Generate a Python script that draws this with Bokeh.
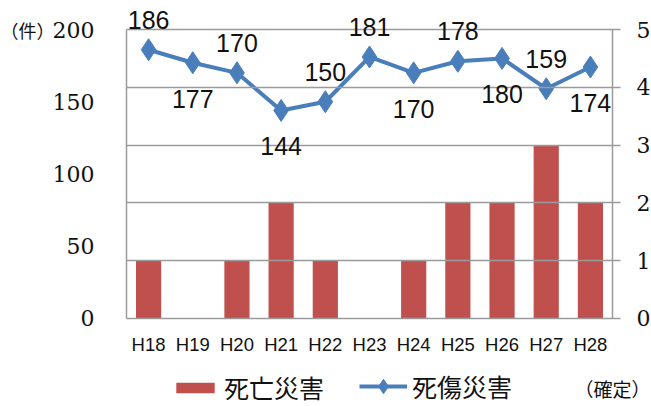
from bokeh.plotting import figure
from bokeh.models import (Range1d, LinearAxis, FixedTicker, Legend,
                          LegendItem, LabelSet, ColumnDataSource, Label)
from bokeh.core.properties import value
from bokeh.embed import file_html
from bokeh.resources import INLINE

years = ["H18", "H19", "H20", "H21", "H22", "H23", "H24", "H25", "H26", "H27", "H28"]
deaths = [1, 0, 1, 2, 1, 0, 1, 2, 2, 3, 2]            # 死亡災害 (right axis)
casualties = [186, 177, 170, 144, 150, 181, 170, 178, 180, 159, 174]  # 死傷災害 (left axis)
label_above = [True, False, True, False, True, True, False, True, False, True, False]
left_ticks = [0, 50, 100, 150, 200]
right_ticks = [0, 1, 2, 3, 4, 5]

idx = list(range(len(years)))   # category slots on the x scale

BAR = "#C0504D"
LINE = "#4A7EBB"
GRID = "#9A9A9A"
TXT = "#111111"

# the frame covers the whole canvas; the plotted area is slots -0.5..10.5, 0..200 / 0..5
X_LO, X_HI = -3.3519, 11.3827
Y_LO, Y_HI = -60.9, 220.07
RATIO = 40.0   # left units per right unit
LEFT_EDGE, RIGHT_EDGE = -0.5, len(years) - 0.5

p = figure(width=651, height=406, x_range=Range1d(X_LO, X_HI), y_range=Range1d(Y_LO, Y_HI),
           output_backend="svg", toolbar_location=None,
           min_border_left=0, min_border_right=0, min_border_top=0, min_border_bottom=0)
p.outline_line_color = None
p.background_fill_color = "white"
p.border_fill_color = "white"
p.extra_y_ranges = {"right": Range1d(Y_LO / RATIO, Y_HI / RATIO)}
p.xgrid.grid_line_color = None
p.ygrid.grid_line_color = None

# left axis
la = p.left[0]
la.fixed_location = LEFT_EDGE
la.ticker = FixedTicker(ticks=left_ticks)
la.bounds = (0, 200)
la.axis_line_color = GRID
la.axis_line_width = 1.5
la.major_tick_line_color = None
la.minor_tick_line_color = None
la.major_label_text_font = "DejaVu Serif"
la.major_label_text_font_size = "22px"
la.major_label_text_color = TXT
la.major_label_standoff = 26

# unit label "（件）" as a second left axis
ua = LinearAxis(fixed_location=LEFT_EDGE, ticker=FixedTicker(ticks=[200]),
                major_label_overrides={200: "（件）"})
ua.axis_line_color = None
ua.major_tick_line_color = None
ua.minor_tick_line_color = None
ua.major_label_text_font = "Noto Sans CJK JP"
ua.major_label_text_font_size = "18px"
ua.major_label_text_color = TXT
ua.major_label_standoff = 66
p.add_layout(ua, "left")

# right axis; its inward ticks form the horizontal grid
ra = LinearAxis(y_range_name="right", ticker=FixedTicker(ticks=right_ticks),
                fixed_location=RIGHT_EDGE, bounds=(0, 5))
ra.axis_line_color = GRID
ra.axis_line_width = 1.5
ra.major_tick_line_color = GRID
ra.major_tick_line_width = 1.5
ra.major_tick_in = 486
ra.major_tick_out = 8
ra.minor_tick_line_color = None
ra.major_label_text_font = "DejaVu Serif"
ra.major_label_text_font_size = "22px"
ra.major_label_text_color = TXT
ra.major_label_standoff = 16
p.add_layout(ra, "right")

# x axis at y = 0 (its line is the right axis' 0 tick)
xa = p.below[0]
xa.fixed_location = 0
xa.ticker = FixedTicker(ticks=idx)
xa.major_label_overrides = {i: y for i, y in zip(idx, years)}
xa.axis_line_color = None
xa.major_tick_line_color = None
xa.minor_tick_line_color = None
xa.major_label_text_font = "Liberation Sans"
xa.major_label_text_font_size = "18.5px"
xa.major_label_text_color = TXT
xa.major_label_standoff = 10

bars = p.vbar(x=idx, top=deaths, width=0.57, y_range_name="right",
              fill_color=BAR, line_color=None, level="underlay")
line = p.line(x=idx, y=casualties, line_color=LINE, line_width=4)
pts = p.scatter(x=idx, y=casualties, marker="diamond", size=22,
                fill_color=LINE, line_color=LINE)

above = ColumnDataSource(dict(
    x=[i for i, a in zip(idx, label_above) if a],
    y=[c for c, a in zip(casualties, label_above) if a],
    t=[str(c) for c, a in zip(casualties, label_above) if a]))
below = ColumnDataSource(dict(
    x=[i for i, a in zip(idx, label_above) if not a],
    y=[c for c, a in zip(casualties, label_above) if not a],
    t=[str(c) for c, a in zip(casualties, label_above) if not a]))
for src, off in ((above, 30), (below, -36)):
    p.add_layout(LabelSet(x="x", y="y", text="t", source=src, y_offset=off,
                          text_align="center", text_baseline="middle",
                          text_font=value("Liberation Sans"), text_font_size=value("25px"),
                          text_color=TXT))


def make_legend(item, loc, gh):
    lg = Legend(items=[item], orientation="horizontal", location=loc)
    lg.label_text_font = "Noto Sans CJK JP"
    lg.label_text_font_size = "25px"
    lg.label_text_color = TXT
    lg.glyph_width = 48
    lg.glyph_height = gh
    lg.label_standoff = 5
    lg.padding = 0
    lg.margin = 0
    lg.border_line_color = None
    lg.background_fill_alpha = 0
    return lg


p.add_layout(make_legend(LegendItem(label="死亡災害", renderers=[bars]), (171, 1), 13), "center")
p.add_layout(make_legend(LegendItem(label="死傷災害", renderers=[line, pts]), (359, 2), 36), "center")

p.add_layout(Label(x=RIGHT_EDGE, y=0, x_offset=38, y_offset=-70, text="（確定）",
                   text_align="right", text_baseline="middle", text_font="Noto Sans CJK JP",
                   text_font_size="19px", text_color=TXT))

open("out.html", "w").write(file_html(p, INLINE))
